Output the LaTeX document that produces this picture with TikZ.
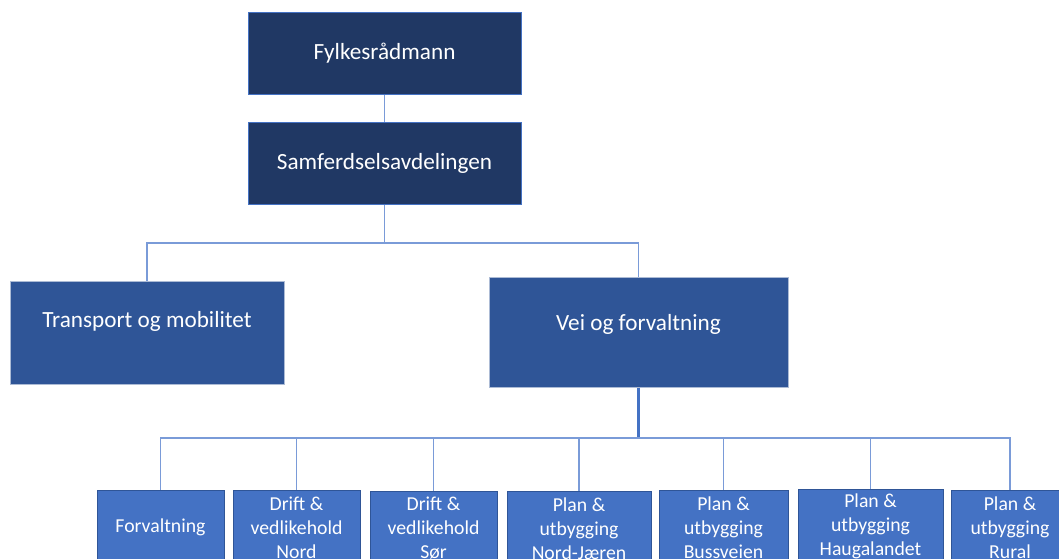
\documentclass[tikz,border=0pt]{standalone}
\usepackage{fontspec}
\setmainfont{Carlito}
\usepackage{tikz}

\definecolor{navy}{HTML}{203864}
\definecolor{midblue}{HTML}{2F5597}
\definecolor{lowblue}{HTML}{4472C4}
\definecolor{linkblue}{HTML}{7A9BD8}

\begin{document}
\begin{tikzpicture}[x=0.75pt, y=-0.75pt,
        topbox/.style={draw=lowblue, line width=0.6pt, fill=navy, text=white,
            anchor=north, inner sep=0pt, minimum width=204.75pt, minimum height=61.5pt,
            font=\fontsize{17.4}{20}\selectfont},
        midbox/.style={draw=midblue!40, line width=0.5pt, fill=midblue, text=white,
            anchor=north, inner sep=0pt, font=\fontsize{17.4}{20}\selectfont},
        lowbox/.style={draw=midblue, line width=0.6pt, fill=lowblue, text=white,
            anchor=north, inner sep=0pt, align=center, minimum height=55.5pt,
            font=\fontsize{14.8}{18}\selectfont},
        link/.style={draw=linkblue, line width=0.9pt},
        thicklink/.style={draw=lowblue, line width=1.6pt}]
        \useasboundingbox (0,0) rectangle (1059,558);
        \clip (0,0) rectangle (1059,558);

        \node[topbox] (fylke) at (384.5,12) {Fylkesrådmann};
        \node[topbox] (samf) at (384.5,122) {Samferdselsavdelingen};

        \node[midbox, minimum width=205.5pt, text height=34.5pt, text depth=42.75pt]
            (transport) at (147,281) {Transport og mobilitet};
        \node[midbox, minimum width=224.25pt, text height=39.75pt, text depth=42.75pt]
            (vei) at (638.5,277) {Vei og forvaltning};

        \node[lowbox, minimum width=95.25pt] (forv) at (160.5,490) {Forvaltning};
        \node[lowbox, minimum width=95.25pt] (driftnord) at (296.5,490) {Drift \&\\vedlikehold\\Nord};
        \node[lowbox, minimum width=95.25pt] (driftsor) at (433.5,491) {Drift \&\\vedlikehold\\Sør};
        \node[lowbox, minimum width=108pt] (plannj) at (579,491) {Plan \&\\utbygging\\Nord-Jæren};
        \node[lowbox, minimum width=96.75pt] (planbuss) at (723.5,490) {Plan \&\\utbygging\\Bussveien};
        \node[lowbox, minimum width=108.75pt] (planhaug) at (870.5,489) {Plan \&\\utbygging\\Haugalandet};
        \node[lowbox, minimum width=88.5pt] (planrural) at (1010,490) {Plan \&\\utbygging\\Rural};

        \coordinate (bus1) at (384.5,243);
        \coordinate (bus2) at (638.5,438);

        \draw[link] (fylke) -- (samf);
        \draw[link] (samf) -- (bus1);
        \draw[link] (bus1) -| (transport);
        \draw[link] (bus1) -| (vei);
        \draw[thicklink] (vei) -- (bus2);
        \foreach \n in {forv, driftnord, driftsor, plannj, planbuss, planhaug, planrural}
            \draw[link] (bus2) -| (\n);
    \end{tikzpicture}
\end{document}
